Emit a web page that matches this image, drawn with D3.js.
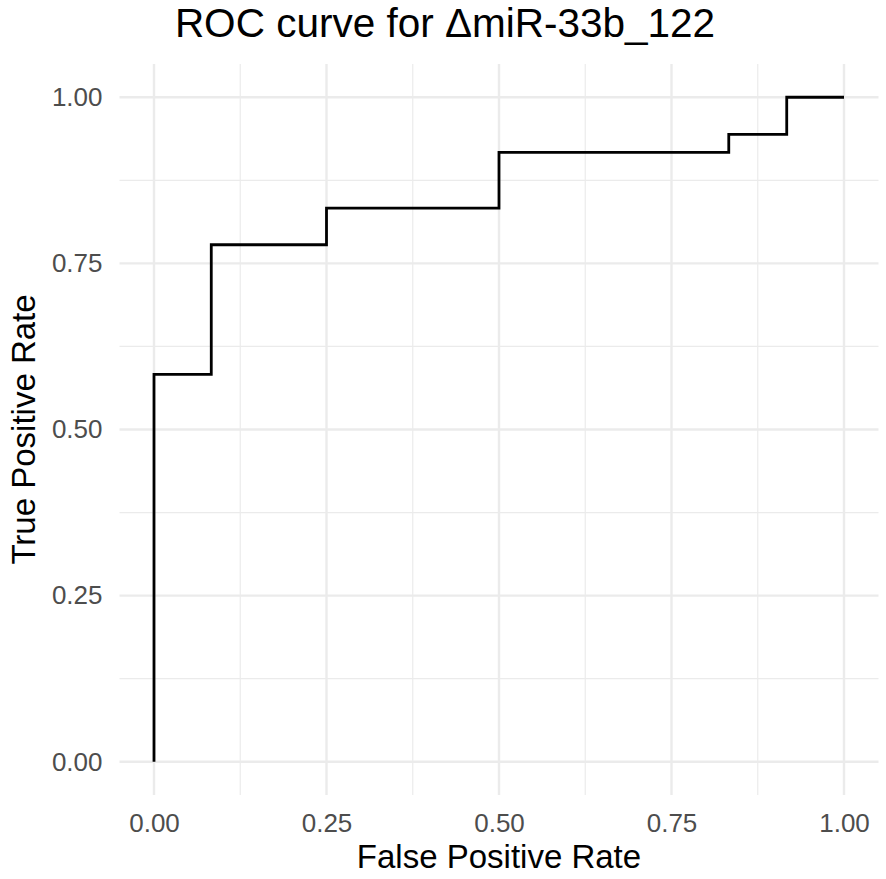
<!DOCTYPE html>
<html>
<head>
<meta charset="utf-8">
<script src="https://cdn.jsdelivr.net/npm/d3@7"></script>
<style>
  body { margin: 0; background: #fff; }
  svg { display: block; font-family: "Liberation Sans", Arial, sans-serif; }
</style>
</head>
<body>
<div id="chart"></div>
<script>
// ROC step points
const fpr = [0, 0, 0.083, 0.25, 0.5, 0.833, 0.917, 1];
const tpr = [0, 0.583, 0.778, 0.833, 0.917, 0.944, 1.0, 1.0];
const majorTicks = [0, 0.25, 0.5, 0.75, 1];
const minorTicks = [0.125, 0.375, 0.625, 0.875];
const titleText = 'ROC curve for \u0394miR-33b_122';
const xLabel = 'False Positive Rate';
const yLabel = 'True Positive Rate';

const W = 886, H = 879;
const panel = { left: 119.5, right: 878.5, top: 64, bottom: 795 };

const svg = d3.select('#chart')
  .append('svg')
  .attr('width', W)
  .attr('height', H);

// ggplot style 5% expansion
const x = d3.scaleLinear().domain([-0.05, 1.05]).range([panel.left, panel.right]);
const y = d3.scaleLinear().domain([-0.05, 1.05]).range([panel.bottom, panel.top]);

// Minor grid
const grid = svg.append('g');
grid.selectAll('.vminor').data(minorTicks).join('line')
  .attr('x1', d => x(d)).attr('x2', d => x(d))
  .attr('y1', panel.top).attr('y2', panel.bottom)
  .attr('stroke', '#ebebeb').attr('stroke-width', 1.2);
grid.selectAll('.hminor').data(minorTicks).join('line')
  .attr('y1', d => y(d)).attr('y2', d => y(d))
  .attr('x1', panel.left).attr('x2', panel.right)
  .attr('stroke', '#ebebeb').attr('stroke-width', 1.2);

// Major grid
grid.selectAll('.vmajor').data(majorTicks).join('line')
  .attr('x1', d => x(d)).attr('x2', d => x(d))
  .attr('y1', panel.top).attr('y2', panel.bottom)
  .attr('stroke', '#ebebeb').attr('stroke-width', 2.4);
grid.selectAll('.hmajor').data(majorTicks).join('line')
  .attr('y1', d => y(d)).attr('y2', d => y(d))
  .attr('x1', panel.left).attr('x2', panel.right)
  .attr('stroke', '#ebebeb').attr('stroke-width', 2.4);

// Axes (labels only, ggplot minimal theme)
const fmt = d3.format('.2f');
const xAxis = svg.append('g')
  .attr('transform', `translate(0,${panel.bottom})`)
  .call(d3.axisBottom(x).tickValues(majorTicks).tickFormat(fmt).tickSize(0).tickPadding(18.5));
const yAxis = svg.append('g')
  .attr('transform', `translate(${panel.left},0)`)
  .call(d3.axisLeft(y).tickValues(majorTicks).tickFormat(fmt).tickSize(0).tickPadding(17));
[xAxis, yAxis].forEach(a => {
  a.select('.domain').remove();
  a.selectAll('text')
    .attr('fill', '#4d4d4d')
    .style('font-size', '26px')
    .style('font-family', '"Liberation Sans", Arial, sans-serif');
});

// ROC curve
const line = d3.line()
  .x(i => x(fpr[i]))
  .y(i => y(tpr[i]))
  .curve(d3.curveStepAfter);

svg.append('path')
  .datum(d3.range(fpr.length))
  .attr('fill', 'none')
  .attr('stroke', '#000')
  .attr('stroke-width', 2.8)
  .attr('d', line);

// Title
svg.append('text')
  .attr('x', 445)
  .attr('y', 37)
  .attr('text-anchor', 'middle')
  .style('font-size', '40.5px')
  .text(titleText);

// Axis titles
svg.append('text')
  .attr('x', (panel.left + panel.right) / 2)
  .attr('y', 868)
  .attr('text-anchor', 'middle')
  .style('font-size', '33px')
  .text(xLabel);

svg.append('text')
  .attr('transform', 'rotate(-90)')
  .attr('x', -(panel.top + panel.bottom) / 2)
  .attr('y', 35)
  .attr('text-anchor', 'middle')
  .style('font-size', '33px')
  .text(yLabel);
</script>
</body>
</html>
